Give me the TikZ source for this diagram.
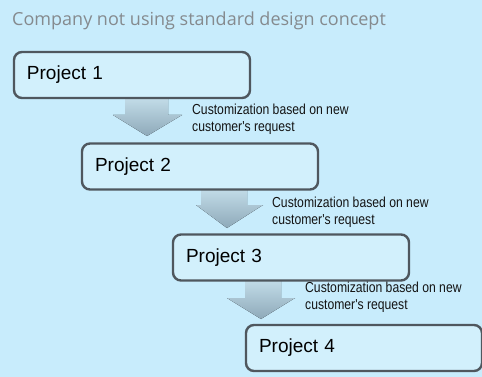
\documentclass[tikz,border=0pt]{standalone}
\usepackage{fontspec}
\setmainfont{Liberation Sans}
\newfontfamily\titlefont{Open Sans}
\newfontfamily\narrowfont[FakeStretch=0.84]{Liberation Sans}
\definecolor{bgblue}{HTML}{C8ECFC}
\definecolor{boxfill}{HTML}{D2F0FC}
\definecolor{boxline}{HTML}{4F575E}
\definecolor{titlegray}{HTML}{858A8E}
\definecolor{arrtop}{HTML}{C2DCE8}
\definecolor{arrbot}{HTML}{8EA9B9}
\tikzset{
  projbox/.style={draw=boxline, line width=2.4pt, fill=boxfill, rounded corners=8pt,
    minimum width=236pt, minimum height=46pt, inner sep=0pt, text width=210pt,
    align=left, font=\fontsize{19}{22}\selectfont},
  note/.style={anchor=north west, inner sep=0pt, align=left, text=black!92,
    font=\narrowfont\fontsize{14.5}{17}\selectfont},
  blockarrow/.style={top color=arrtop, bottom color=arrbot, draw=none}
}
\begin{document}
\begin{tikzpicture}[x=1pt,y=-1pt]
\fill[bgblue] (0,0) rectangle (482,377);
\useasboundingbox (0,0) rectangle (482,377);
\node[anchor=west, inner sep=0pt, text=titlegray, font=\titlefont\fontsize{18}{22}\selectfont] (title) at (12,21) {Company not using standard design concept};
% arrows (drawn before boxes)
\fill[blockarrow] (125,98) -- (168,98) -- (168,115) -- (182,115) -- (147,136) -- (113,115) -- (125,115) -- cycle;
\fill[blockarrow] (201,189) -- (247,189) -- (247,205) -- (263,205) -- (227,228) -- (196,205) -- (201,205) -- cycle;
\fill[blockarrow] (245,280) -- (281,280) -- (281,298) -- (295,298) -- (261,319) -- (227,298) -- (245,298) -- cycle;
\node[projbox] (p1) at (132,75) {Project 1};
\node[projbox] (p2) at (200,166.5) {Project 2};
\node[projbox] (p3) at (291,257.5) {Project 3};
\node[projbox] (p4) at (364,348) {Project 4};
\node[note] (n1) at (192,104) {Customization based on new\\customer's request};
\node[note] (n2) at (272,197) {Customization based on new\\customer's request};
\node[note] (n3) at (305,282) {Customization based on new\\customer's request};
\end{tikzpicture}
\end{document}
